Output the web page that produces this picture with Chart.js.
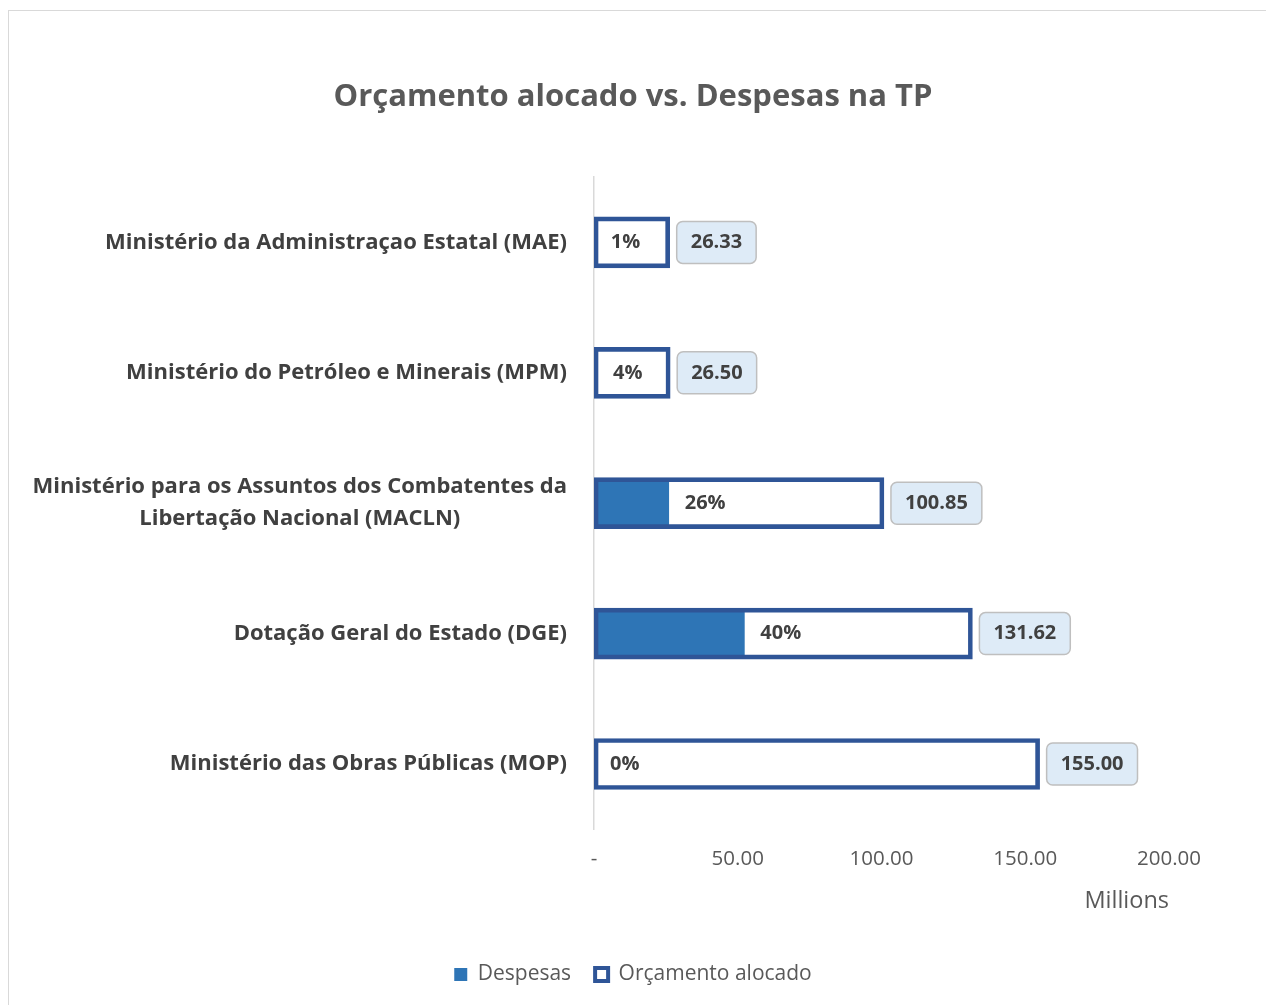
<!DOCTYPE html>
<html>
<head>
<meta charset="utf-8">
<script src="https://cdn.jsdelivr.net/npm/chart.js@4"></script>
<style>
  body { margin: 0; background: #fff; }
  canvas { display: block; }
</style>
</head>
<body>
<canvas id="chart" width="1266" height="1005"></canvas>
<script>
// Categorias e valores (milhões)
const categorias = [
    'Ministério da Administraçao Estatal (MAE)',
    'Ministério do Petróleo e Minerais (MPM)',
    ['Ministério para os Assuntos dos Combatentes da', 'Libertação Nacional (MACLN)'],
    'Dotação Geral do Estado (DGE)',
    'Ministério das Obras Públicas (MOP)'
];
const orcamento = [26.33, 26.50, 100.85, 131.62, 155.00];
const despesas = [0.26, 1.06, 26.0, 52.3, 0];
const xTicks = [0, 50, 100, 150, 200];

const FONTE = '"Open Sans", "Noto Sans", sans-serif';
const AZUL = '#2E75B6';
const AZUL_ESCURO = '#2F5597';

// Moldura clara em volta do gráfico
const moldura = {
    id: 'moldura',
    beforeDraw(chart) {
        const ctx = chart.ctx;
        ctx.save();
        ctx.fillStyle = '#fff';
        ctx.fillRect(0, 0, chart.width, chart.height);
        ctx.strokeStyle = '#D9D9D9';
        ctx.lineWidth = 1;
        ctx.strokeRect(8.5, 10.5, chart.width + 10, chart.height + 10);
        ctx.restore();
    }
};

// Rótulos do eixo Y (linha dupla centrada, como no Excel)
const rotulosY = {
    id: 'rotulosY',
    afterDraw(chart) {
        const ctx = chart.ctx;
        const y = chart.scales.y;
        const xDir = chart.chartArea.left - 27;
        ctx.save();
        ctx.font = 'bold 22px ' + FONTE;
        ctx.fillStyle = '#404040';
        ctx.textBaseline = 'middle';
        categorias.forEach((cat, i) => {
            const cy = y.getPixelForValue(i);
            if (Array.isArray(cat)) {
                const largura = Math.max(...cat.map(l => ctx.measureText(l).width));
                ctx.textAlign = 'center';
                cat.forEach((linha, j) => {
                    ctx.fillText(linha, xDir - largura / 2, cy + (j - (cat.length - 1) / 2) * 32);
                });
            } else {
                ctx.textAlign = 'right';
                ctx.fillText(cat, xDir, cy);
            }
        });
        ctx.restore();
    }
};

// Percentagens e caixas de valores
const rotulosDados = {
    id: 'rotulosDados',
    afterDatasetsDraw(chart) {
        const ctx = chart.ctx;
        const x = chart.scales.x;
        const y = chart.scales.y;
        ctx.save();
        ctx.textBaseline = 'middle';
        categorias.forEach((cat, i) => {
            const cy = y.getPixelForValue(i);
            // percentagem executada
            const pct = Math.round(despesas[i] / orcamento[i] * 100) + '%';
            ctx.font = 'bold 20px ' + FONTE;
            ctx.fillStyle = '#404040';
            ctx.textAlign = 'left';
            ctx.fillText(pct, x.getPixelForValue(despesas[i]) + 16, cy);
            // valor do orçamento numa caixa
            const txt = orcamento[i].toFixed(2);
            const tw = ctx.measureText(txt).width;
            const bx = x.getPixelForValue(orcamento[i]) + 7;
            const bw = tw + 28;
            const bh = 42;
            ctx.beginPath();
            ctx.roundRect(bx, cy - bh / 2, bw, bh, 6);
            ctx.fillStyle = '#DEEBF7';
            ctx.fill();
            ctx.lineWidth = 1.5;
            ctx.strokeStyle = '#BFBFBF';
            ctx.stroke();
            ctx.fillStyle = '#404040';
            ctx.textAlign = 'center';
            ctx.fillText(txt, bx + bw / 2, cy);
        });
        ctx.restore();
    }
};

const ctx = document.getElementById('chart').getContext('2d');
new Chart(ctx, {
    type: 'bar',
    data: {
        labels: categorias,
        datasets: [{
            label: 'Despesas',
            data: despesas,
            backgroundColor: AZUL,
            borderWidth: 0,
            barThickness: 45,
            grouped: false,
            order: 1
        }, {
            label: 'Orçamento alocado',
            data: orcamento,
            backgroundColor: 'rgba(0,0,0,0)',
            borderColor: AZUL_ESCURO,
            borderWidth: 4,
            borderSkipped: false,
            barThickness: 51,
            grouped: false,
            order: 0
        }]
    },
    options: {
        indexAxis: 'y',
        responsive: false,
        animation: false,
        layout: { padding: { left: 0, right: 0, top: 0, bottom: 10 } },
        scales: {
            x: {
                min: 0,
                max: 200,
                afterBuildTicks: axis => { axis.ticks = xTicks.map(v => ({ value: v })); },
                grid: { display: false },
                border: { display: false },
                ticks: {
                    color: '#595959',
                    font: { family: FONTE, size: 20.5 },
                    padding: 10,
                    maxRotation: 0,
                    callback: v => v === 0 ? '-' : v.toFixed(2)
                },
                title: {
                    display: true,
                    text: 'Millions',
                    align: 'end',
                    color: '#595959',
                    font: { family: FONTE, size: 23.5 },
                    padding: { top: 5, bottom: 25 }
                }
            },
            y: {
                grid: { display: false },
                border: { display: true, color: '#D9D9D9', width: 1.5 },
                ticks: { display: false },
                afterFit: scale => { scale.width = 594; }
            },
            // eixo vazio à direita só para reservar a margem
            margem: {
                type: 'category',
                position: 'right',
                labels: [''],
                grid: { display: false },
                border: { display: false },
                ticks: { display: false },
                afterFit: scale => { scale.width = 97; }
            }
        },
        plugins: {
            title: {
                display: true,
                text: 'Orçamento alocado vs. Despesas na TP',
                color: '#595959',
                font: { family: FONTE, size: 31, weight: 'bold' },
                padding: { top: 79, bottom: 61 }
            },
            legend: {
                position: 'bottom',
                labels: {
                    color: '#595959',
                    font: { family: FONTE, size: 21 },
                    boxWidth: 13,
                    boxHeight: 13,
                    padding: 24,
                    sort: (a, b) => a.datasetIndex - b.datasetIndex
                }
            },
            tooltip: { enabled: false }
        }
    },
    plugins: [moldura, rotulosY, rotulosDados]
});
</script>
</body>
</html>
